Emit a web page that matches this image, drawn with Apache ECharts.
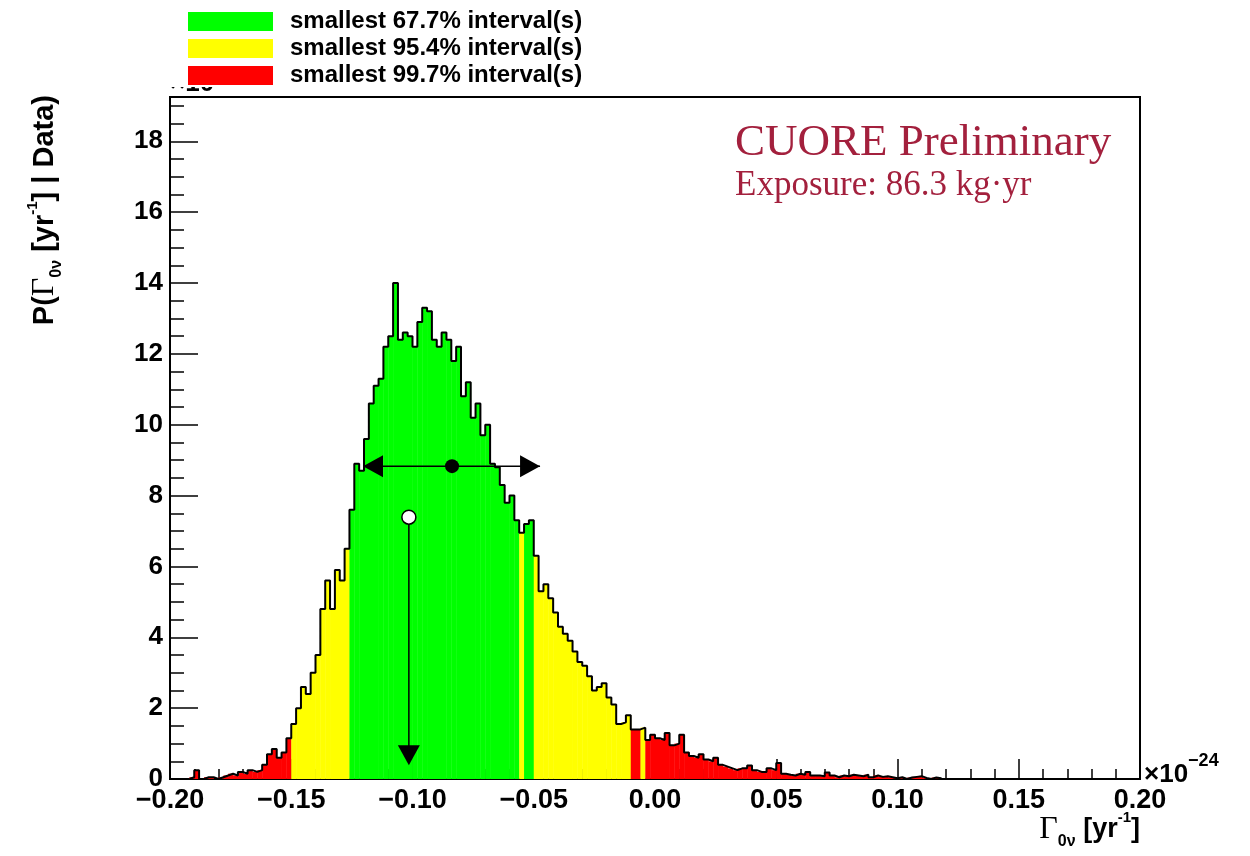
<!DOCTYPE html>
<html>
<head>
<meta charset="utf-8">
<script src="https://cdn.jsdelivr.net/npm/echarts@6/dist/echarts.min.js"></script>
<style>
html,body{margin:0;padding:0;background:#fff;}
#chart{width:1250px;height:856px;}
</style>
</head>
<body>
<div id="chart"></div>
<script>
// ---- data (x in units of 1e-24 yr^-1) ----
const binLow = -0.192;
const binWidth = 0.002;
const density = [
  0.05,0.25,0.0,0.05,0.05,0.0,0.05,0.1,0.15,0.1,
  0.2,0.15,0.25,0.2,0.25,0.4,0.7,0.85,0.6,0.75,
  1.15,1.55,2.0,2.6,2.4,3.0,3.5,4.8,5.6,4.8,
  5.9,5.6,6.5,7.6,8.9,8.7,9.6,10.6,11.1,11.3,
  12.2,12.5,14.0,12.4,12.6,12.5,12.2,12.9,13.3,13.2,
  12.4,12.2,12.6,12.4,11.8,12.2,10.8,11.2,10.2,10.6,
  9.7,10.0,8.9,8.8,8.3,7.8,8.0,7.3,6.95,7.2,
  7.3,6.3,5.3,5.5,5.1,4.7,4.3,4.1,3.9,3.6,
  3.3,3.2,2.9,2.5,2.6,2.7,2.3,2.1,1.55,1.6,
  1.8,1.4,1.4,1.45,1.1,1.25,1.15,1.1,1.3,0.95,
  1.0,1.25,0.75,0.65,0.6,0.7,0.55,0.5,0.6,0.4,
  0.35,0.3,0.25,0.3,0.3,0.38,0.25,0.2,0.2,0.3,
  0.25,0.45,0.15,0.12,0.1,0.15,0.12,0.2,0.1,0.1,
  0.08,0.18,0.1,0.05,0.1,0.08,0.12,0.1,0.08,0.12,
  0.05,0.1,0.06,0.08,0.05,0.02,0.05,0.0,0.04,0.06,
  0.08,0.03,0.0,0.04,0.02
];
// density levels bounding the smallest intervals
const greenMin = 7.0;   // 67.7%
const yellowMin = 1.45; // 95.4%
const intervalNames = ['smallest 67.7% interval(s)','smallest 95.4% interval(s)','smallest 99.7% interval(s)'];
const intervalColors = ['#00ff00','#ffff00','#ff0000'];
// markers
const meanValue = -0.0837, meanLow = -0.1204, meanHigh = -0.0474, meanLevel = 8.83;
const modeValue = -0.1015, modeTop = 7.39, modeTip = 0.39;
// axes
const xMin = -0.2, xMax = 0.2, xStep = 0.05;
const yMin = 0, yMax = 19.25, yStep = 2;

// ---- build ----
const bars = density.map((v,i)=>[binLow+i*binWidth, binLow+(i+1)*binWidth, v]);
const outline = [[binLow,0]].concat(density.map((v,i)=>[binLow+i*binWidth, v]))
  .concat([[binLow+density.length*binWidth, 0]]);

function colorFor(v){
  if (v >= greenMin) return intervalColors[0];
  if (v >= yellowMin) return intervalColors[1];
  return intervalColors[2];
}

const SANS = 'Liberation Sans, Arial, Helvetica, sans-serif';
const SERIF = 'Liberation Serif, Times New Roman, serif';

const chart = echarts.init(document.getElementById('chart'), null, {renderer:'canvas'});

function fmtX(v){
  if (Math.abs(v) < 1e-9) v = 0;
  return (v < 0 ? '\u2212' : '') + Math.abs(v).toFixed(2);
}

const option = {
  animation:false,
  backgroundColor:'#ffffff',
  grid:{left:170, top:97, right:110, bottom:77, show:true, borderColor:'#000', borderWidth:2, backgroundColor:'transparent'},
  xAxis:{
    type:'value', min:xMin, max:xMax, interval:xStep,
    axisLine:{show:true, onZero:false, lineStyle:{color:'#000', width:2}},
    axisTick:{show:true, inside:true, length:20, lineStyle:{color:'#000', width:1.5}},
    minorTick:{show:true, splitNumber:5, length:10, lineStyle:{color:'#000', width:1.5}},
    splitLine:{show:false},
    axisLabel:{formatter:fmtX, color:'#000', fontFamily:SANS, fontWeight:'bold', fontSize:27, margin:8}
  },
  yAxis:{
    type:'value', min:yMin, max:yMax, interval:yStep,
    axisLine:{show:true, onZero:false, lineStyle:{color:'#000', width:2}},
    axisTick:{show:true, inside:true, length:28, lineStyle:{color:'#000', width:1.5}},
    minorTick:{show:true, splitNumber:4, length:14, lineStyle:{color:'#000', width:1.5}},
    splitLine:{show:false},
    axisLabel:{color:'#000', fontFamily:SANS, fontWeight:'bold', fontSize:26, margin:7, showMaxLabel:false}
  },
  series:[
    {
      type:'custom', name:'fill', z:2,
      data:bars,
      encode:{x:[0,1], y:2},
      renderItem:function(params, api){
        const p0 = api.coord([api.value(0), api.value(2)]);
        const p1 = api.coord([api.value(1), 0]);
        return {type:'rect', shape:{x:p0[0], y:p0[1], width:p1[0]-p0[0]+0.4, height:p1[1]-p0[1]},
          style:{fill:colorFor(api.value(2))}};
      }
    },
    {
      type:'line', name:'outline', z:3, step:'end', data:outline, showSymbol:false, symbol:'none',
      lineStyle:{color:'#000', width:2}
    },
    {
      type:'custom', name:'markers', z:5,
      data:[[meanValue, meanLevel]],
      encode:{x:0, y:1},
      renderItem:function(params, api){
        const L = api.coord([meanLow, meanLevel]);
        const R = api.coord([meanHigh, meanLevel]);
        const M = api.coord([meanValue, meanLevel]);
        const T = api.coord([modeValue, modeTop]);
        const B = api.coord([modeValue, modeTip]);
        const head = 20, half = 11;
        const blk = {fill:'#000'};
        return {type:'group', children:[
          {type:'line', shape:{x1:L[0], y1:L[1], x2:R[0], y2:R[1]}, style:{stroke:'#000', lineWidth:1.5}},
          {type:'polygon', shape:{points:[[L[0],L[1]],[L[0]+head,L[1]-half],[L[0]+head,L[1]+half]]}, style:blk},
          {type:'polygon', shape:{points:[[R[0],R[1]],[R[0]-head,R[1]-half],[R[0]-head,R[1]+half]]}, style:blk},
          {type:'circle', shape:{cx:M[0], cy:M[1], r:7}, style:blk},
          {type:'line', shape:{x1:T[0], y1:T[1], x2:B[0], y2:B[1]-head+2}, style:{stroke:'#000', lineWidth:1.5}},
          {type:'polygon', shape:{points:[[B[0],B[1]],[B[0]-half,B[1]-head],[B[0]+half,B[1]-head]]}, style:blk},
          {type:'circle', shape:{cx:T[0], cy:T[1], r:7}, style:{fill:'#fff', stroke:'#000', lineWidth:1.5}}
        ]};
      }
    }
  ],
  graphic:[
    // partially hidden multiplier at top-left of the frame
    {type:'text', x:170, y:84, z:10, style:{text:'\u00d710', font:'bold 26px '+SANS, fill:'#000', verticalAlign:'middle'}},
    {type:'rect', z:11, shape:{x:160, y:0, width:460, height:87}, style:{fill:'#fff'}},
    // legend
    {type:'rect', z:12, shape:{x:188, y:12, width:85, height:19}, style:{fill:intervalColors[0]}},
    {type:'rect', z:12, shape:{x:188, y:39, width:85, height:19}, style:{fill:intervalColors[1]}},
    {type:'rect', z:12, shape:{x:188, y:66, width:85, height:19}, style:{fill:intervalColors[2]}},
    {type:'text', z:12, x:290, y:21, style:{text:intervalNames[0], font:'bold 24px '+SANS, fill:'#000', verticalAlign:'middle'}},
    {type:'text', z:12, x:290, y:48, style:{text:intervalNames[1], font:'bold 24px '+SANS, fill:'#000', verticalAlign:'middle'}},
    {type:'text', z:12, x:290, y:75, style:{text:intervalNames[2], font:'bold 24px '+SANS, fill:'#000', verticalAlign:'middle'}},
    // CUORE labels
    {type:'text', z:12, x:735, y:143, style:{text:'CUORE Preliminary', font:'45px '+SERIF, fill:'#a3203d', verticalAlign:'middle'}},
    {type:'text', z:12, x:735, y:186, style:{text:'Exposure: 86.3 kg\u00b7yr', font:'35px '+SERIF, fill:'#a3203d', verticalAlign:'middle'}},
    // x multiplier
    {type:'text', z:12, x:1144, y:770, style:{
      text:'{b|\u00d710}{s|\u221224}', verticalAlign:'middle',
      rich:{b:{fontFamily:SANS, fontWeight:'bold', fontSize:26, lineHeight:36, verticalAlign:'bottom', color:'#000'},
            s:{fontFamily:SANS, fontWeight:'bold', fontSize:18, lineHeight:36, verticalAlign:'top', color:'#000'}}
    }},
    // x title
    {type:'text', z:12, x:1140, y:830, style:{
      text:'{g|\u0393}{sub|0\u03bd}{b| [yr}{sup|-1}{b|]}', align:'right', verticalAlign:'middle',
      rich:{g:{fontFamily:SERIF, fontSize:32, lineHeight:40, verticalAlign:'middle', color:'#000'},
            sub:{fontFamily:SANS, fontWeight:'bold', fontSize:16, lineHeight:40, verticalAlign:'bottom', color:'#000'},
            b:{fontFamily:SANS, fontWeight:'bold', fontSize:27, lineHeight:40, verticalAlign:'middle', color:'#000'},
            sup:{fontFamily:SANS, fontWeight:'bold', fontSize:15, lineHeight:40, verticalAlign:'top', color:'#000'}}
    }},
    // y title
    {type:'text', z:12, x:45, y:95, rotation:Math.PI/2, style:{
      text:'{b|P(}{g|\u0393}{sub|0\u03bd}{b| [yr}{sup|-1}{b|] | Data)}', align:'right', verticalAlign:'middle',
      rich:{g:{fontFamily:SERIF, fontSize:32, lineHeight:40, verticalAlign:'middle', color:'#000'},
            sub:{fontFamily:SANS, fontWeight:'bold', fontSize:16, lineHeight:40, verticalAlign:'bottom', color:'#000'},
            b:{fontFamily:SANS, fontWeight:'bold', fontSize:29, lineHeight:40, verticalAlign:'middle', color:'#000'},
            sup:{fontFamily:SANS, fontWeight:'bold', fontSize:15, lineHeight:40, verticalAlign:'top', color:'#000'}}
    }}
  ]
};
chart.setOption(option);
</script>
</body>
</html>
